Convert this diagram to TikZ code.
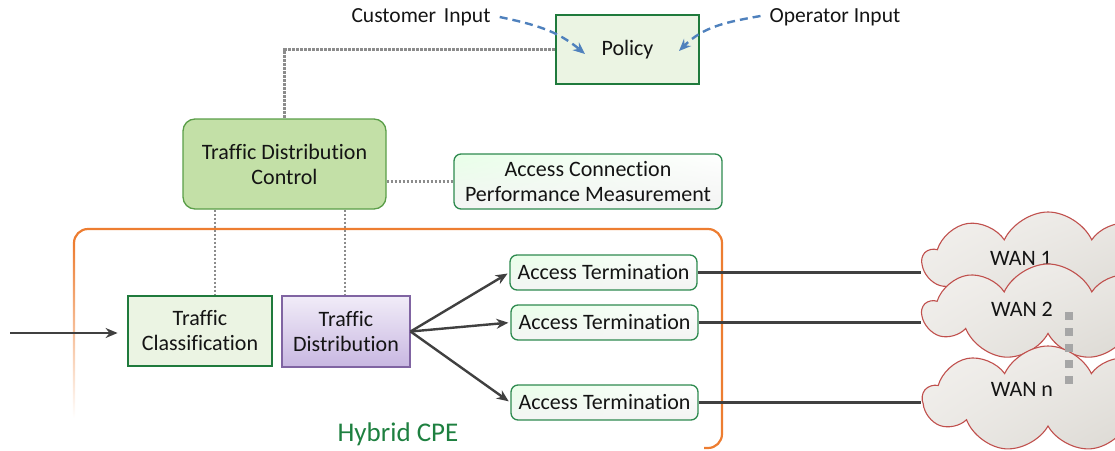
\documentclass[tikz,border=0pt]{standalone}
\usepackage{fontspec}
\setmainfont{Carlito}[Ligatures=NoCommon]
\usetikzlibrary{arrows.meta,shapes.symbols,shadings}

\definecolor{dkgreen}{HTML}{1F7A3C}
\definecolor{midgreen}{HTML}{2E8A4F}
\definecolor{palegreen}{HTML}{EBF4E3}
\definecolor{ctrlgreen}{HTML}{C3E0A7}
\definecolor{ctrlborder}{HTML}{5A9E48}
\definecolor{purpborder}{HTML}{8064A2}
\definecolor{purptop}{HTML}{F1ECF8}
\definecolor{purpbot}{HTML}{C8B7E1}
\definecolor{cpeorange}{HTML}{ED7D31}
\definecolor{cpetext}{HTML}{1E8040}
\definecolor{inblue}{HTML}{4F81BD}
\definecolor{linkgray}{HTML}{404040}
\definecolor{dotgray}{HTML}{8C8C8C}
\definecolor{cloudred}{HTML}{C0504D}
\definecolor{cloudlight}{HTML}{F3F1EE}
\definecolor{clouddark}{HTML}{D9D6D0}

\tikzset{
  txt/.style={font=\fontsize{22}{25}\selectfont, text=black!92, align=center, inner sep=0pt},
  solidbox/.style={txt, draw=dkgreen, line width=2.8pt, fill=palegreen},
  ctrlbox/.style={txt, draw=ctrlborder, line width=1.3pt, fill=ctrlgreen, rounded corners=12pt},
  softbox/.style={txt, draw=midgreen, line width=1.3pt, rounded corners=7pt,
    shade, upper left=green!9!white, upper right=white, lower left=black!4, lower right=green!8!black!5},
  purpbox/.style={txt, draw=purpborder, line width=1.1pt, shade, top color=purptop, bottom color=purpbot},
  wan/.style={cloud, cloud puffs=9, cloud puff arc=130, cloud ignores aspect, shape border rotate=30,
    draw=cloudred, line width=1.1pt, inner sep=0pt,
    shade, upper left=cloudlight, upper right=cloudlight!60!clouddark, lower left=cloudlight!70!clouddark, lower right=clouddark},
  dot/.style={dotgray, line width=2.4pt, dash pattern=on 2.2pt off 1.8pt},
  arr/.style={linkgray, line width=2.4pt, -{Stealth[length=12pt,width=10pt]}},
  link/.style={linkgray, line width=2.4pt},
  inarr/.style={inblue, line width=2.4pt, dash pattern=on 8pt off 5pt, -{Stealth[length=12pt,width=10pt]}},
}

\begin{document}
\begin{tikzpicture}[x=1pt, y=-1pt]
\useasboundingbox (0,0) rectangle (1115,450);

% Hybrid CPE frame: top and right sides, left side fading downwards
\draw[cpeorange, line width=2.2pt, rounded corners=14pt]
  (74,243) |- (722,229) -- (722,448) -- (704,448);
\shade[top color=cpeorange, bottom color=white] (72.9,243) rectangle (75.1,418);
\node[txt, font=\fontsize{27}{30}\selectfont, text=cpetext] (cpe) at (398,434) {Hybrid CPE};

% policy and its inputs
\node[solidbox, minimum width=143pt, minimum height=69pt] (policy) at (627.5,49.5) {Policy};
\node[txt, font=\fontsize{21.5}{25}\selectfont] (cust) at (421,17) {Customer\hspace{3pt} Input};
\node[txt, font=\fontsize{21.5}{25}\selectfont] (oper) at (835,17) {Operator Input};
\draw[inarr] (cust.east) ++(9,0) coordinate (cs) to[out=-12, in=140] (585,54);
\draw[inarr] (oper.west) ++(-9,-1) coordinate (os) to[out=190, in=45] (679,51);

% control plane
\node[ctrlbox, minimum width=203pt, minimum height=90pt] (tdc) at (284.5,164) {Traffic Distribution\\Control};
\node[softbox, minimum width=268pt, minimum height=55pt] (acpm) at (588,181.5) {Access Connection\\Performance Measurement};
\draw[dot] (policy.west) -| (tdc.north);
\draw[dot] (acpm.west -| tdc.east) -- (acpm.west);

% data plane
\node[solidbox, minimum width=144pt, minimum height=70pt] (tc) at (200,331) {Traffic\\Classification};
\node[purpbox, minimum width=128pt, minimum height=71pt] (td) at (346,331.5) {Traffic\\Distribution};
\draw[dot] ([xshift=-69.5pt]tdc.south) -- ([xshift=-69.5pt]tdc.south |- tc.north);
\draw[dot] ([xshift=60.5pt]tdc.south) -- ([xshift=60.5pt]tdc.south |- td.north);

\coordinate (in) at (10,333);
\draw[arr, shorten >=9pt] (in) -- (in -| tc.west);

\node[softbox, minimum width=187pt, minimum height=35pt] (at1) at (603.5,272.5) {Access Termination};
\node[softbox, minimum width=187pt, minimum height=35pt] (at2) at (604.5,322.5) {Access Termination};
\node[softbox, minimum width=187pt, minimum height=35pt] (at3) at (604.5,402.5) {Access Termination};

\draw[arr, shorten >=2pt] (td.east) -- (at1.west);
\draw[arr, shorten >=2pt] (td.east) -- (at2.west);
\draw[arr, shorten >=2pt] (td.east) -- (at3.west);

% WAN clouds
\node[wan, minimum width=250pt, minimum height=98pt] (w1) at (1048,261) {};
\node[txt] (w1t) at (1021,258) {WAN 1};
\node[wan, minimum width=250pt, minimum height=96pt] (w2) at (1048,312) {};
\node[txt] (w2t) at (1022,309) {WAN 2};
\node[wan, minimum width=250pt, minimum height=106pt] (wn) at (1048,399) {};
\node[txt] (wnt) at (1022,389) {WAN n};
\draw[black!35, line width=8pt, dash pattern=on 8pt off 8pt] (1069,312) -- (1069,390);

\draw[link] (at1.east) -- (at1.east -| w1.west);
\draw[link] (at2.east) -- (at2.east -| w2.west);
\draw[link] (at3.east) -- (at3.east -| wn.west);
\end{tikzpicture}
\end{document}
